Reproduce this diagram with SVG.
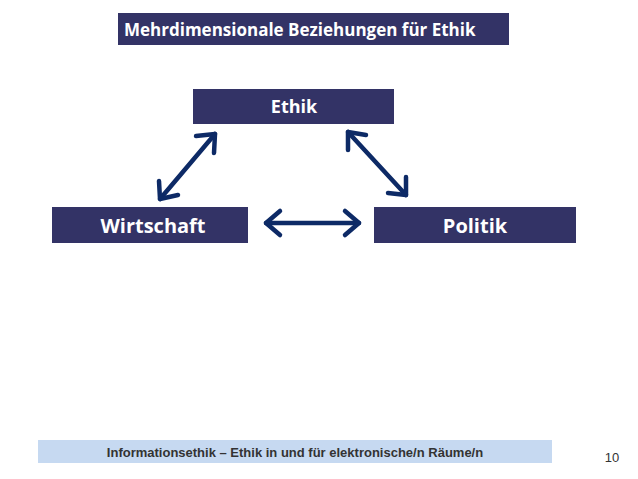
<svg xmlns="http://www.w3.org/2000/svg" width="638" height="479" viewBox="0 0 638 479">
<style>
.box{fill:#333366}
.lbl{font-family:"Open Sans","DejaVu Sans",sans-serif;font-weight:bold;fill:#fff}
.c{stroke:#0d2a66;stroke-width:4.5;fill:none;stroke-linecap:round;stroke-linejoin:round}
</style>
<rect width="638" height="479" fill="#fff"/>
<g id="title"><rect x="118" y="13" width="391" height="32" class="box"/>
<text x="124" y="36" class="lbl" font-size="17">Mehrdimensionale Beziehungen für Ethik</text></g>
<g id="ethik"><rect x="193" y="89" width="201" height="35" class="box"/>
<text x="294" y="113" class="lbl" font-size="18" text-anchor="middle">Ethik</text></g>
<g id="wirtschaft"><rect x="52" y="207" width="196" height="36" class="box"/>
<text x="153" y="233" class="lbl" font-size="20" text-anchor="middle">Wirtschaft</text></g>
<g id="politik"><rect x="374" y="207" width="202" height="36" class="box"/>
<text x="475" y="233" class="lbl" font-size="20" text-anchor="middle">Politik</text></g>
<g id="connectors">
<line x1="160" y1="199" x2="215" y2="134" class="c"/>
<polyline points="159,181 160,199 178,195" class="c"/>
<polyline points="196,136 215,134 214,153" class="c"/>
<line x1="348" y1="132" x2="406" y2="195" class="c"/>
<polyline points="348,150 348,132 366,135" class="c"/>
<polyline points="406,177 406,195 388,193" class="c"/>
<line x1="266" y1="223" x2="359" y2="223" class="c"/>
<polyline points="280,211 266,223 280,235" class="c"/>
<polyline points="345,211 359,223 345,235" class="c"/>
</g>
<g id="footer"><rect x="38" y="440" width="514" height="23" fill="#c6d9f1"/>
<text x="295" y="457" font-family="Liberation Sans,Arial,sans-serif" font-weight="bold" font-size="13" fill="#333" text-anchor="middle">Informationsethik – Ethik in und für  elektronische/n Räume/n</text>
<text x="612" y="462" font-family="Liberation Sans,Arial,sans-serif" font-size="13" fill="#333" text-anchor="middle">10</text></g>
</svg>
